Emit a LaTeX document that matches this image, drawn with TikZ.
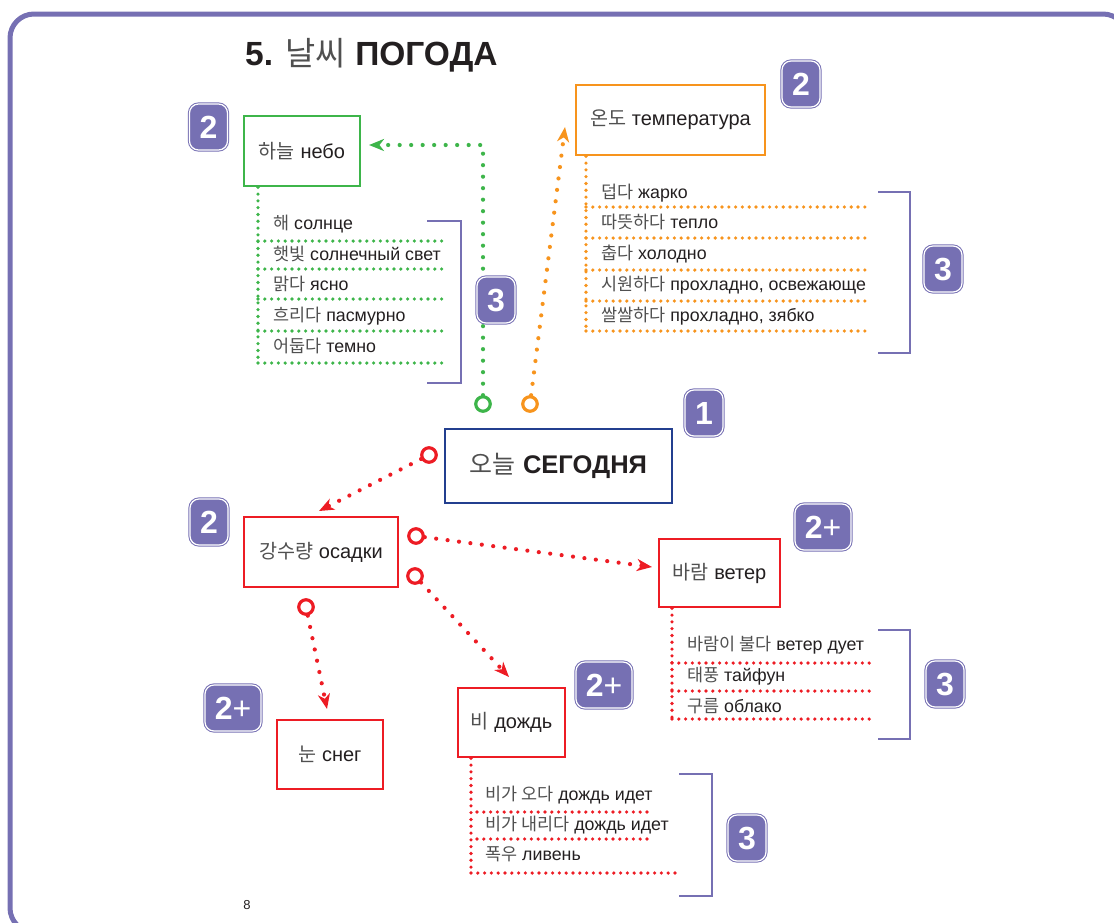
\documentclass[tikz,border=0pt]{standalone}
\usepackage{fontspec}
\setmainfont{Liberation Sans}
\newfontfamily\krfont[Scale=0.98]{Noto Sans CJK KR}
\usetikzlibrary{arrows.meta}
\definecolor{bpurple}{HTML}{7670B3}
\definecolor{cgreen}{HTML}{3DB54A}
\definecolor{corange}{HTML}{F7941D}
\definecolor{cred}{HTML}{ED1C24}
\definecolor{cblue}{HTML}{233F8F}
\definecolor{textc}{HTML}{231F20}
\definecolor{krgray}{HTML}{505050}
\newcommand\K[1]{{\krfont\color{krgray}#1}}
\tikzset{
  badge/.style={fill=bpurple, draw=bpurple, double=white, double distance=1.2pt, line width=1pt,
    rounded corners=9pt, minimum width=38pt, minimum height=46pt, inner sep=0pt, text=white,
    font=\fontsize{32}{32}\selectfont\bfseries},
  wbadge/.style={badge, minimum width=56pt},
  wordbox/.style={draw, line width=2.5pt, fill=white, inner sep=0pt, text=textc,
    font=\fontsize{20}{24}\selectfont},
  item/.style={anchor=base west, inner sep=0pt, text=textc, font=\fontsize{17.8}{20}\selectfont},
  ring/.style={circle, draw, line width=3.2pt, fill=white, minimum size=14.5pt, inner sep=0pt},
  cdot/.style={line width=4.2pt, line cap=round, dash pattern=on 0pt off 11.5pt},
  ldot/.style={line width=3.6pt, line cap=round, dash pattern=on 0pt off 6.8pt},
  tip/.style={-{Stealth[length=15pt,width=12pt,inset=4.5pt]}},
  bracket/.style={draw=bpurple, line width=2.5pt},
}
\begin{document}
\begin{tikzpicture}[x=1pt,y=-1pt]
\useasboundingbox (0,0) rectangle (1114,922);
\begin{scope}
\clip (0,0) rectangle (1114,922);
\draw[bpurple, line width=5pt, rounded corners=24pt] (10,14) rectangle (1127,932);
\end{scope}

% title
\node[anchor=base west, inner sep=0pt, text=textc, font=\fontsize{33.5}{34}\selectfont] (title) at (245,65)
  {\textbf{5.} \K{날씨} \textbf{ПОГОДА}};

% word boxes
\node[wordbox, draw=cgreen, minimum width=116pt, minimum height=70pt] (sky) at (302,151) {\K{하늘} небо};
\node[wordbox, draw=corange, minimum width=189pt, minimum height=70pt] (temp) at (670.5,120) {\K{온도} температура};
\node[wordbox, draw=cblue, minimum width=227pt, minimum height=74pt, font=\fontsize{25.5}{28}\selectfont] (today) at (558.5,466) {\K{오늘} \textbf{СЕГОДНЯ}};
\node[wordbox, draw=cred, minimum width=154pt, minimum height=70pt] (prec) at (321,552) {\K{강수량} осадки};
\node[wordbox, draw=cred, minimum width=121pt, minimum height=68pt] (wind) at (719.5,573) {\K{바람} ветер};
\node[wordbox, draw=cred, minimum width=106pt, minimum height=69pt] (snow) at (330,754.5) {\K{눈} снег};
\node[wordbox, draw=cred, minimum width=107pt, minimum height=69pt] (rain) at (511.5,722.5) {\K{비} дождь};

% sky list
\draw[cgreen, ldot] (sky.south west -| 258,0) -- (258,363);
\foreach \y in {241,269,299,331,363} \draw[cgreen, ldot] (258,\y) -- (447,\y);
\node[item] (s1) at (273,229) {\K{해} солнце};
\node[item] (s2) at (273,260) {\K{햇빛} солнечный свет};
\node[item] (s3) at (273,290) {\K{맑다} ясно};
\node[item] (s4) at (273,321) {\K{흐리다} пасмурно};
\node[item] (s5) at (273,352) {\K{어둡다} темно};
\draw[bracket] (427,221) -- (461,221) -- (461,383) -- (427,383);

% temperature list
\draw[corange, ldot] (temp.south west -| 586,0) -- (586,331);
\foreach \y in {207,238,270,301,331} \draw[corange, ldot] (586,\y) -- (870,\y);
\node[item] (t1) at (601,198) {\K{덥다} жарко};
\node[item] (t2) at (601,228) {\K{따뜻하다} тепло};
\node[item] (t3) at (601,259) {\K{춥다} холодно};
\node[item] (t4) at (601,290) {\K{시원하다} прохладно, освежающе};
\node[item] (t5) at (601,321) {\K{쌀쌀하다} прохладно, зябко};
\draw[bracket] (878,192) -- (910,192) -- (910,353) -- (878,353);

% wind list
\draw[cred, ldot] (wind.south west -| 672,0) -- (672,719);
\foreach \y in {663,691,719} \draw[cred, ldot] (672,\y) -- (870,\y);
\node[item] (w1) at (687,650) {\K{바람이 불다} ветер дует};
\node[item] (w2) at (687,681) {\K{태풍} тайфун};
\node[item] (w3) at (687,712) {\K{구름} облако};
\draw[bracket] (878,630) -- (910,630) -- (910,739) -- (878,739);

% rain list
\draw[cred, ldot] (rain.south west -| 471,0) -- (471,873);
\foreach \y in {812,839} \draw[cred, ldot] (477,\y) -- (652,\y);
\draw[cred, ldot] (471,873) -- (678,873);
\node[item] (r1) at (485,800) {\K{비가 오다} дождь идет};
\node[item] (r2) at (485,830) {\K{비가 내리다} дождь идет};
\node[item] (r3) at (485,860) {\K{폭우} ливень};
\draw[bracket] (679,774) -- (712,774) -- (712,896) -- (679,896);

% connectors
\node[ring, draw=cgreen] (gc) at (483,404) {};
\node[ring, draw=corange] (oc) at (530,404) {};
\node[ring, draw=cred] (rc1) at (429,455) {};
\node[ring, draw=cred] (rc2) at (416,536) {};
\node[ring, draw=cred] (rc3) at (415,576) {};
\node[ring, draw=cred] (rc4) at (306,607) {};
\coordinate (gtip) at (369,145);
\coordinate (otip) at (565,127);
\coordinate (rtip1) at (319,511);
\coordinate (rtip2) at (652,567);
\coordinate (rtip3) at (509,677);
\coordinate (rtip4) at (327,709);
\draw[cgreen, cdot, tip] (gc) |- (gtip);
\draw[corange, cdot, tip] (oc) -- (otip);
\draw[cred, cdot, tip] (rc1) -- (rtip1);
\draw[cred, cdot, tip] (rc2) -- (rtip2);
\draw[cred, cdot, tip] (rc3) -- (rtip3);
\draw[cred, cdot, tip] (rc4) -- (rtip4);

% badges (on top)
\node[badge] (b2sky) at (208.5,127) {2};
\node[badge] (b2temp) at (801,84) {2};
\node[badge] (b3sky) at (496,300) {3};
\node[badge] (b3temp) at (943,269) {3};
\node[badge] (b1) at (704,413) {1};
\node[badge] (b2prec) at (209,522) {2};
\node[wbadge] (b2wind) at (823,527) {2{\mdseries+}};
\node[wbadge] (b2snow) at (233,708) {2{\mdseries+}};
\node[wbadge] (b2rain) at (604,685) {2{\mdseries+}};
\node[badge] (b3wind) at (945,684) {3};
\node[badge] (b3rain) at (747,838) {3};

% page number
\node[text=textc, font=\fontsize{13}{13}\selectfont] (page) at (247,905) {8};
\end{tikzpicture}
\end{document}
